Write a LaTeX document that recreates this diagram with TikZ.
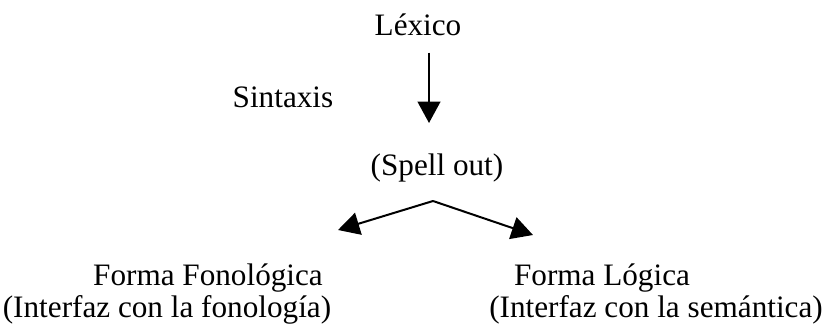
\documentclass[tikz,border=0pt]{standalone}
\usepackage{fontspec}
\setmainfont{Liberation Serif}
\usetikzlibrary{arrows.meta, positioning, calc}

\begin{document}
\begin{tikzpicture}[x=0.75pt, y=-0.75pt, every node/.style={inner sep=0pt, anchor=base, font=\fontsize{23.4}{28}\selectfont}]

        % Stile
        \tikzstyle{pfeil}=[-{Triangle[length=16pt, width=17pt]}, line width=1.5pt]

        \useasboundingbox (0,0) rectangle (826,329);

        % Lexikon und Syntax
        \node (lexico) at (418,35) {Léxico};
        \node (sintaxis) at (283,107) {Sintaxis};
        \node (spell) at (437,175) {(Spell out)};

        % Schnittstellen
        \node (pf) at (208,285) {Forma Fonológica};
        \node (pfint) at (167,317) {(Interfaz con la fonología)};
        \node (lf) at (602,285) {Forma Lógica};
        \node (lfint) at (656,317) {(Interfaz con la semántica)};

        % Verzweigung
        \coordinate (lexend) at (429,123);
        \coordinate (split) at (433,201);
        \coordinate (pfend) at (338,230);
        \coordinate (lfend) at (533,235);

        % Pfeile
        \draw[pfeil, shorten <=12.75pt] (lexico.south -| lexend) -- (lexend);
        \draw[pfeil] (split) -- (pfend);
        \draw[pfeil] (split) -- (lfend);
        \end{tikzpicture}
\end{document}
